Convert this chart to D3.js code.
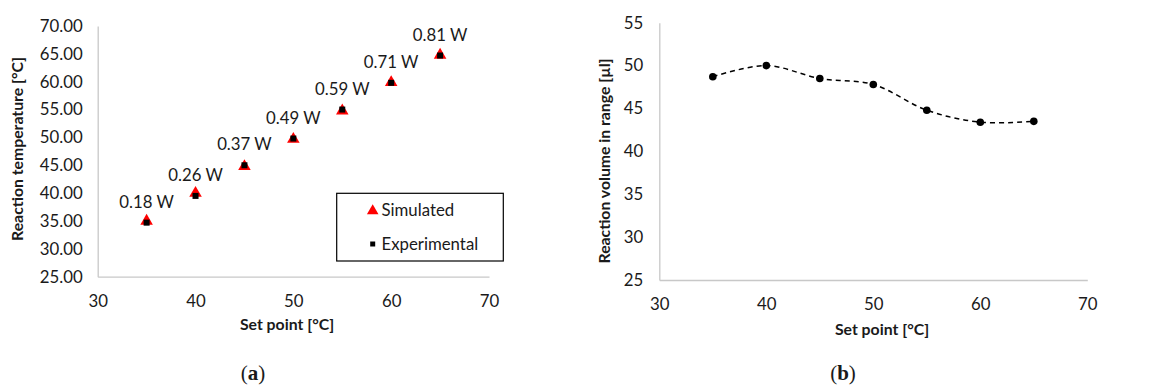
<!DOCTYPE html>
<html>
<head>
<meta charset="utf-8">
<script src="https://cdn.jsdelivr.net/npm/d3@7"></script>
<style>
  body { margin: 0; background: #fff; }
  text { font-family: Lato, "Open Sans", sans-serif; fill: #1a1a1a; }
</style>
</head>
<body>
<div id="vis"></div>
<script>
// chart data
let setPoints = [35, 40, 45, 50, 55, 60, 65];
let simulated = [34.8, 39.8, 44.6, 49.5, 54.6, 59.7, 64.6];
let experimental = [34.7, 39.5, 45.0, 49.8, 55.0, 59.8, 64.7];
let powerLabels = ['0.18 W', '0.26 W', '0.37 W', '0.49 W', '0.59 W', '0.71 W', '0.81 W'];
let volume = [48.7, 50.0, 48.5, 47.8, 44.8, 43.4, 43.5];

let xTicks = [30, 40, 50, 60, 70];
let yTicksA = [25, 30, 35, 40, 45, 50, 55, 60, 65, 70];
let yTicksB = [25, 30, 35, 40, 45, 50, 55];

let labelSize = 16.8;
let titleSize = 15.8;

let svg = d3.select('#vis')
  .append('svg')
  .attr('width', 1156)
  .attr('height', 387);

// ---------- panel (a) ----------
let xA = d3.scaleLinear().domain([30, 70]).range([97.7, 489]);
let yA = d3.scaleLinear().domain([25, 70]).range([276.7, 26]);

let gA = svg.append('g');

gA.append('g')
  .attr('transform', 'translate(0,' + yA(25) + ')')
  .call(d3.axisBottom(xA).tickValues(xTicks).tickSize(0).tickPadding(18))
  .call(g => g.select('.domain').attr('stroke', '#c8c8c8').attr('stroke-width', 1.3))
  .call(g => g.selectAll('text').attr('font-size', labelSize).attr('font-family', 'Lato').attr('fill', '#1a1a1a'));

gA.append('g')
  .attr('transform', 'translate(' + xA(30) + ',0)')
  .call(d3.axisLeft(yA).tickValues(yTicksA).tickFormat(d3.format('.2f')).tickSize(0).tickPadding(15))
  .call(g => g.select('.domain').attr('stroke', '#c8c8c8').attr('stroke-width', 1.3))
  .call(g => g.selectAll('text').attr('font-size', labelSize).attr('font-family', 'Lato').attr('fill', '#1a1a1a'));

let tri = d3.symbol().type(d3.symbolTriangle).size(68);
let sq = d3.symbol().type(d3.symbolSquare).size(36);

gA.selectAll('.sim')
  .data(setPoints)
  .join('path')
  .attr('class', 'sim')
  .attr('d', tri)
  .attr('fill', '#ff0000')
  .attr('transform', (d, i) => 'translate(' + xA(d) + ',' + (yA(simulated[i]) - 1) + ')');

gA.selectAll('.exp')
  .data(setPoints)
  .join('path')
  .attr('class', 'exp')
  .attr('d', sq)
  .attr('fill', '#000')
  .attr('transform', (d, i) => 'translate(' + xA(d) + ',' + yA(experimental[i]) + ')');

gA.selectAll('.plabel')
  .data(setPoints)
  .join('text')
  .attr('class', 'plabel')
  .attr('x', d => xA(d))
  .attr('y', (d, i) => yA(experimental[i]) - 15)
  .attr('text-anchor', 'middle')
  .attr('font-size', labelSize)
  .text((d, i) => powerLabels[i]);

// legend
let leg = gA.append('g');
leg.append('rect')
  .attr('x', 336.7).attr('y', 193.3)
  .attr('width', 166.6).attr('height', 67.7)
  .attr('fill', 'none').attr('stroke', '#000').attr('stroke-width', 1.2);
leg.append('path').attr('d', d3.symbol().type(d3.symbolTriangle).size(58))
  .attr('fill', '#ff0000').attr('transform', 'translate(372.7,211)');
leg.append('text').attr('x', 381.5).attr('y', 216).attr('font-size', labelSize).text('Simulated');
leg.append('path').attr('d', d3.symbol().type(d3.symbolSquare).size(25))
  .attr('fill', '#000').attr('transform', 'translate(372.7,244)');
leg.append('text').attr('x', 381.5).attr('y', 250).attr('font-size', labelSize).text('Experimental');

gA.append('text')
  .attr('x', 287).attr('y', 330)
  .attr('text-anchor', 'middle')
  .attr('font-size', titleSize).attr('font-weight', 'bold')
  .text('Set point [°C]');

gA.append('text')
  .attr('transform', 'translate(23,149) rotate(-90)')
  .attr('text-anchor', 'middle')
  .attr('font-size', titleSize).attr('font-weight', 'bold')
  .text('Reaction temperature [°C]');

// ---------- panel (b) ----------
let xB = d3.scaleLinear().domain([30, 70]).range([659.3, 1087.3]);
let yB = d3.scaleLinear().domain([25, 55]).range([280, 22.7]);

let gB = svg.append('g');

gB.append('g')
  .attr('transform', 'translate(0,' + yB(25) + ')')
  .call(d3.axisBottom(xB).tickValues(xTicks).tickSize(0).tickPadding(18))
  .call(g => g.select('.domain').attr('stroke', '#c8c8c8').attr('stroke-width', 1.3))
  .call(g => g.selectAll('text').attr('font-size', labelSize).attr('font-family', 'Lato').attr('fill', '#1a1a1a'));

gB.append('g')
  .attr('transform', 'translate(' + xB(30) + ',0)')
  .call(d3.axisLeft(yB).tickValues(yTicksB).tickSize(0).tickPadding(16))
  .call(g => g.select('.domain').attr('stroke', '#c8c8c8').attr('stroke-width', 1.3))
  .call(g => g.selectAll('text').attr('font-size', labelSize).attr('font-family', 'Lato').attr('fill', '#1a1a1a'));

let line = d3.line()
  .x((d, i) => xB(setPoints[i]))
  .y(d => yB(d))
  .curve(d3.curveCatmullRom.alpha(0.5));

gB.append('path')
  .datum(volume)
  .attr('d', line)
  .attr('fill', 'none')
  .attr('stroke', '#000')
  .attr('stroke-width', 1.5)
  .attr('stroke-dasharray', '5,4');

gB.selectAll('.vol')
  .data(volume)
  .join('circle')
  .attr('class', 'vol')
  .attr('cx', (d, i) => xB(setPoints[i]))
  .attr('cy', d => yB(d))
  .attr('r', 3.8)
  .attr('fill', '#000');

gB.append('text')
  .attr('x', 882).attr('y', 335)
  .attr('text-anchor', 'middle')
  .attr('font-size', titleSize).attr('font-weight', 'bold')
  .text('Set point [°C]');

gB.append('text')
  .attr('transform', 'translate(610,161) rotate(-90)')
  .attr('text-anchor', 'middle')
  .attr('font-size', titleSize).attr('font-weight', 'bold')
  .text('Reaction volume in range [µl]');

// ---------- captions ----------
let capA = svg.append('text')
  .attr('x', 253).attr('y', 380)
  .attr('text-anchor', 'middle')
  .attr('font-size', 21)
  .style('font-family', '"Liberation Serif", serif');
capA.append('tspan').text('(');
capA.append('tspan').attr('font-weight', 'bold').text('a');
capA.append('tspan').text(')');

let capB = svg.append('text')
  .attr('x', 843).attr('y', 380)
  .attr('text-anchor', 'middle')
  .attr('font-size', 21)
  .style('font-family', '"Liberation Serif", serif');
capB.append('tspan').text('(');
capB.append('tspan').attr('font-weight', 'bold').text('b');
capB.append('tspan').text(')');
</script>
</body>
</html>
